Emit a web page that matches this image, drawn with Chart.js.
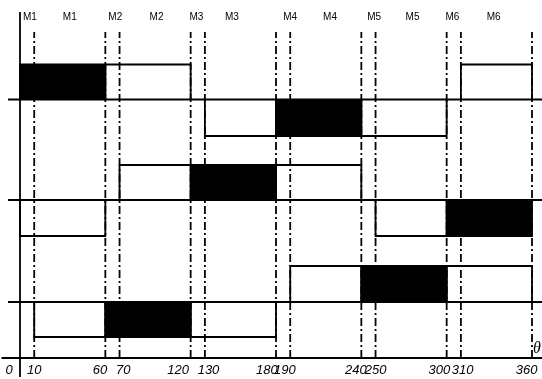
<!DOCTYPE html>
<html><head><meta charset="utf-8">
<script src="https://cdn.jsdelivr.net/npm/chart.js@4.4.0/dist/chart.umd.min.js"></script>
<style>html,body{margin:0;padding:0;background:#fff;}#wrap{width:542px;height:379px;position:relative;}</style>
</head><body><div id="wrap"><canvas id="c" width="542" height="379"></canvas></div>
<script>
// ---------------- data ----------------
const tickValues   = [0, 10, 60, 70, 120, 130, 180, 190, 240, 250, 300, 310, 360];
const tickLabels   = ['0','10','60','70','120','130','180','190','240','250','300','310','360'];
const switchAngles = [10, 60, 70, 120, 130, 180, 190, 240, 250, 300, 310, 360];
const phaseLabels  = ['M1','M1','M2','M2','M3','M3','M4','M4','M5','M5','M6','M6'];
const phaseLabelAt = [7, 35, 67, 96, 124, 149, 190, 218, 249, 276, 304, 333];
const railLevel    = [2.585, 1.58, 0.56];   // rails A, B, C
const highLevel    = [2.935, 1.93, 0.92];
const lowLevel     = [2.22, 1.22, 0.21];
// conducting (black) intervals: [rail, side, start deg, end deg]
const conducting = [[0,'high',0,60],[2,'low',60,120],[1,'high',120,180],[0,'low',180,240],[2,'high',240,300],[1,'low',300,360]];
// idle (outlined) intervals
const idle = [[0,'high',60,120],[0,'high',310,360],[0,'low',130,180],[0,'low',240,300],
              [1,'high',70,120],[1,'high',180,240],[1,'low',250,300],[1,'low',0,60],
              [2,'high',190,240],[2,'high',300,360],[2,'low',10,60],[2,'low',120,180]];
const axisLabel = 'θ';

// ---------------- layout / style ----------------
const X_MIN = -14.06, X_MAX = 367.03, Y_MIN = -0.03, Y_MAX = 3.33;
const GUIDE_TOP = 3.26, YAXIS_TOP = 3.46, YAXIS_BOTTOM = -0.19;
const XAXIS_LEFT = -13, RAIL_LEFT = -8.4, RIGHT_END = 367.5;
const labelNudge = [-6,0,-3,2,-7,2,-5,-3,-3,0,-4,1,-3]; // spaces (neg = trailing)

function nudged(txt, n){ return n < 0 ? txt + ' '.repeat(-n) : ' '.repeat(n) + txt; }

const datasets = [];
function seg(points, extra){
  return Object.assign({data: points, borderColor:'#000', borderWidth:1.8, pointRadius:0,
    pointHoverRadius:0, fill:false, tension:0, clip:false, order:2}, extra || {});
}
// axis lines
datasets.push(seg([{x:0,y:YAXIS_BOTTOM},{x:0,y:YAXIS_TOP}]));
datasets.push(seg([{x:XAXIS_LEFT,y:0},{x:RIGHT_END,y:0}]));
railLevel.forEach(b => datasets.push(seg([{x:RAIL_LEFT,y:b},{x:RIGHT_END,y:b}])));
// switching guides
switchAngles.forEach(a => datasets.push(seg([{x:a,y:0},{x:a,y:GUIDE_TOP}],
  {borderDash:[8,3,2,3], borderWidth:1.8, order:3})));
function pulse(r, side, a0, a1){
  const lv = side === 'high' ? highLevel[r] : lowLevel[r];
  const b = railLevel[r];
  return [{x:a0,y:b},{x:a0,y:lv},{x:a1,y:lv},{x:a1,y:b}];
}
idle.forEach(([r,s,a0,a1]) => datasets.push(seg(pulse(r,s,a0,a1), {order:1})));
conducting.forEach(([r,s,a0,a1]) => datasets.push(seg(pulse(r,s,a0,a1),
  {fill:{value:railLevel[r]}, backgroundColor:'#000', order:0})));

const thetaPlugin = {
  id:'theta',
  afterDatasetsDraw(chart){
    const {ctx, scales:{x, y}} = chart;
    ctx.save();
    ctx.font = 'italic 16px "Liberation Serif"';
    ctx.fillStyle = '#000';
    ctx.textAlign = 'left';
    ctx.textBaseline = 'alphabetic';
    ctx.fillText(axisLabel, x.getPixelForValue(360) + 1, y.getPixelForValue(0) - 5);
    ctx.restore();
  }
};

new Chart(document.getElementById('c'), {
  type:'line',
  data:{datasets},
  options:{
    responsive:false, animation:false,
    layout:{padding:{top:9, bottom:0, left:0, right:0}},
    plugins:{legend:{display:false}, tooltip:{enabled:false}},
    events:[],
    scales:{
      x:{
        type:'linear', position:'bottom', min:X_MIN, max:X_MAX,
        grid:{display:false, drawTicks:false}, border:{display:false},
        afterBuildTicks:(s)=>{ s.ticks = tickValues.map(v=>({value:v})); },
        afterFit:(s)=>{ s.paddingLeft = 0; s.paddingRight = 0; },
        ticks:{autoSkip:false, maxRotation:0, minRotation:0, padding:2.5, color:'#000',
          font:{family:'"Liberation Sans"', style:'italic', size:13, lineHeight:1},
          callback:(v,i)=>nudged(tickLabels[i], labelNudge[i])}
      },
      xTop:{
        type:'linear', position:'top', min:X_MIN, max:X_MAX,
        grid:{display:false, drawTicks:false}, border:{display:false},
        afterBuildTicks:(s)=>{ s.ticks = phaseLabelAt.map(v=>({value:v})); },
        afterFit:(s)=>{ s.paddingLeft = 0; s.paddingRight = 0; },
        ticks:{autoSkip:false, maxRotation:0, minRotation:0, padding:2, color:'#000',
          font:{family:'"Liberation Sans"', size:10, lineHeight:1.2},
          callback:(v,i)=>phaseLabels[i]}
      },
      y:{type:'linear', display:false, min:Y_MIN, max:Y_MAX}
    }
  },
  plugins:[thetaPlugin]
});
</script></body></html>
